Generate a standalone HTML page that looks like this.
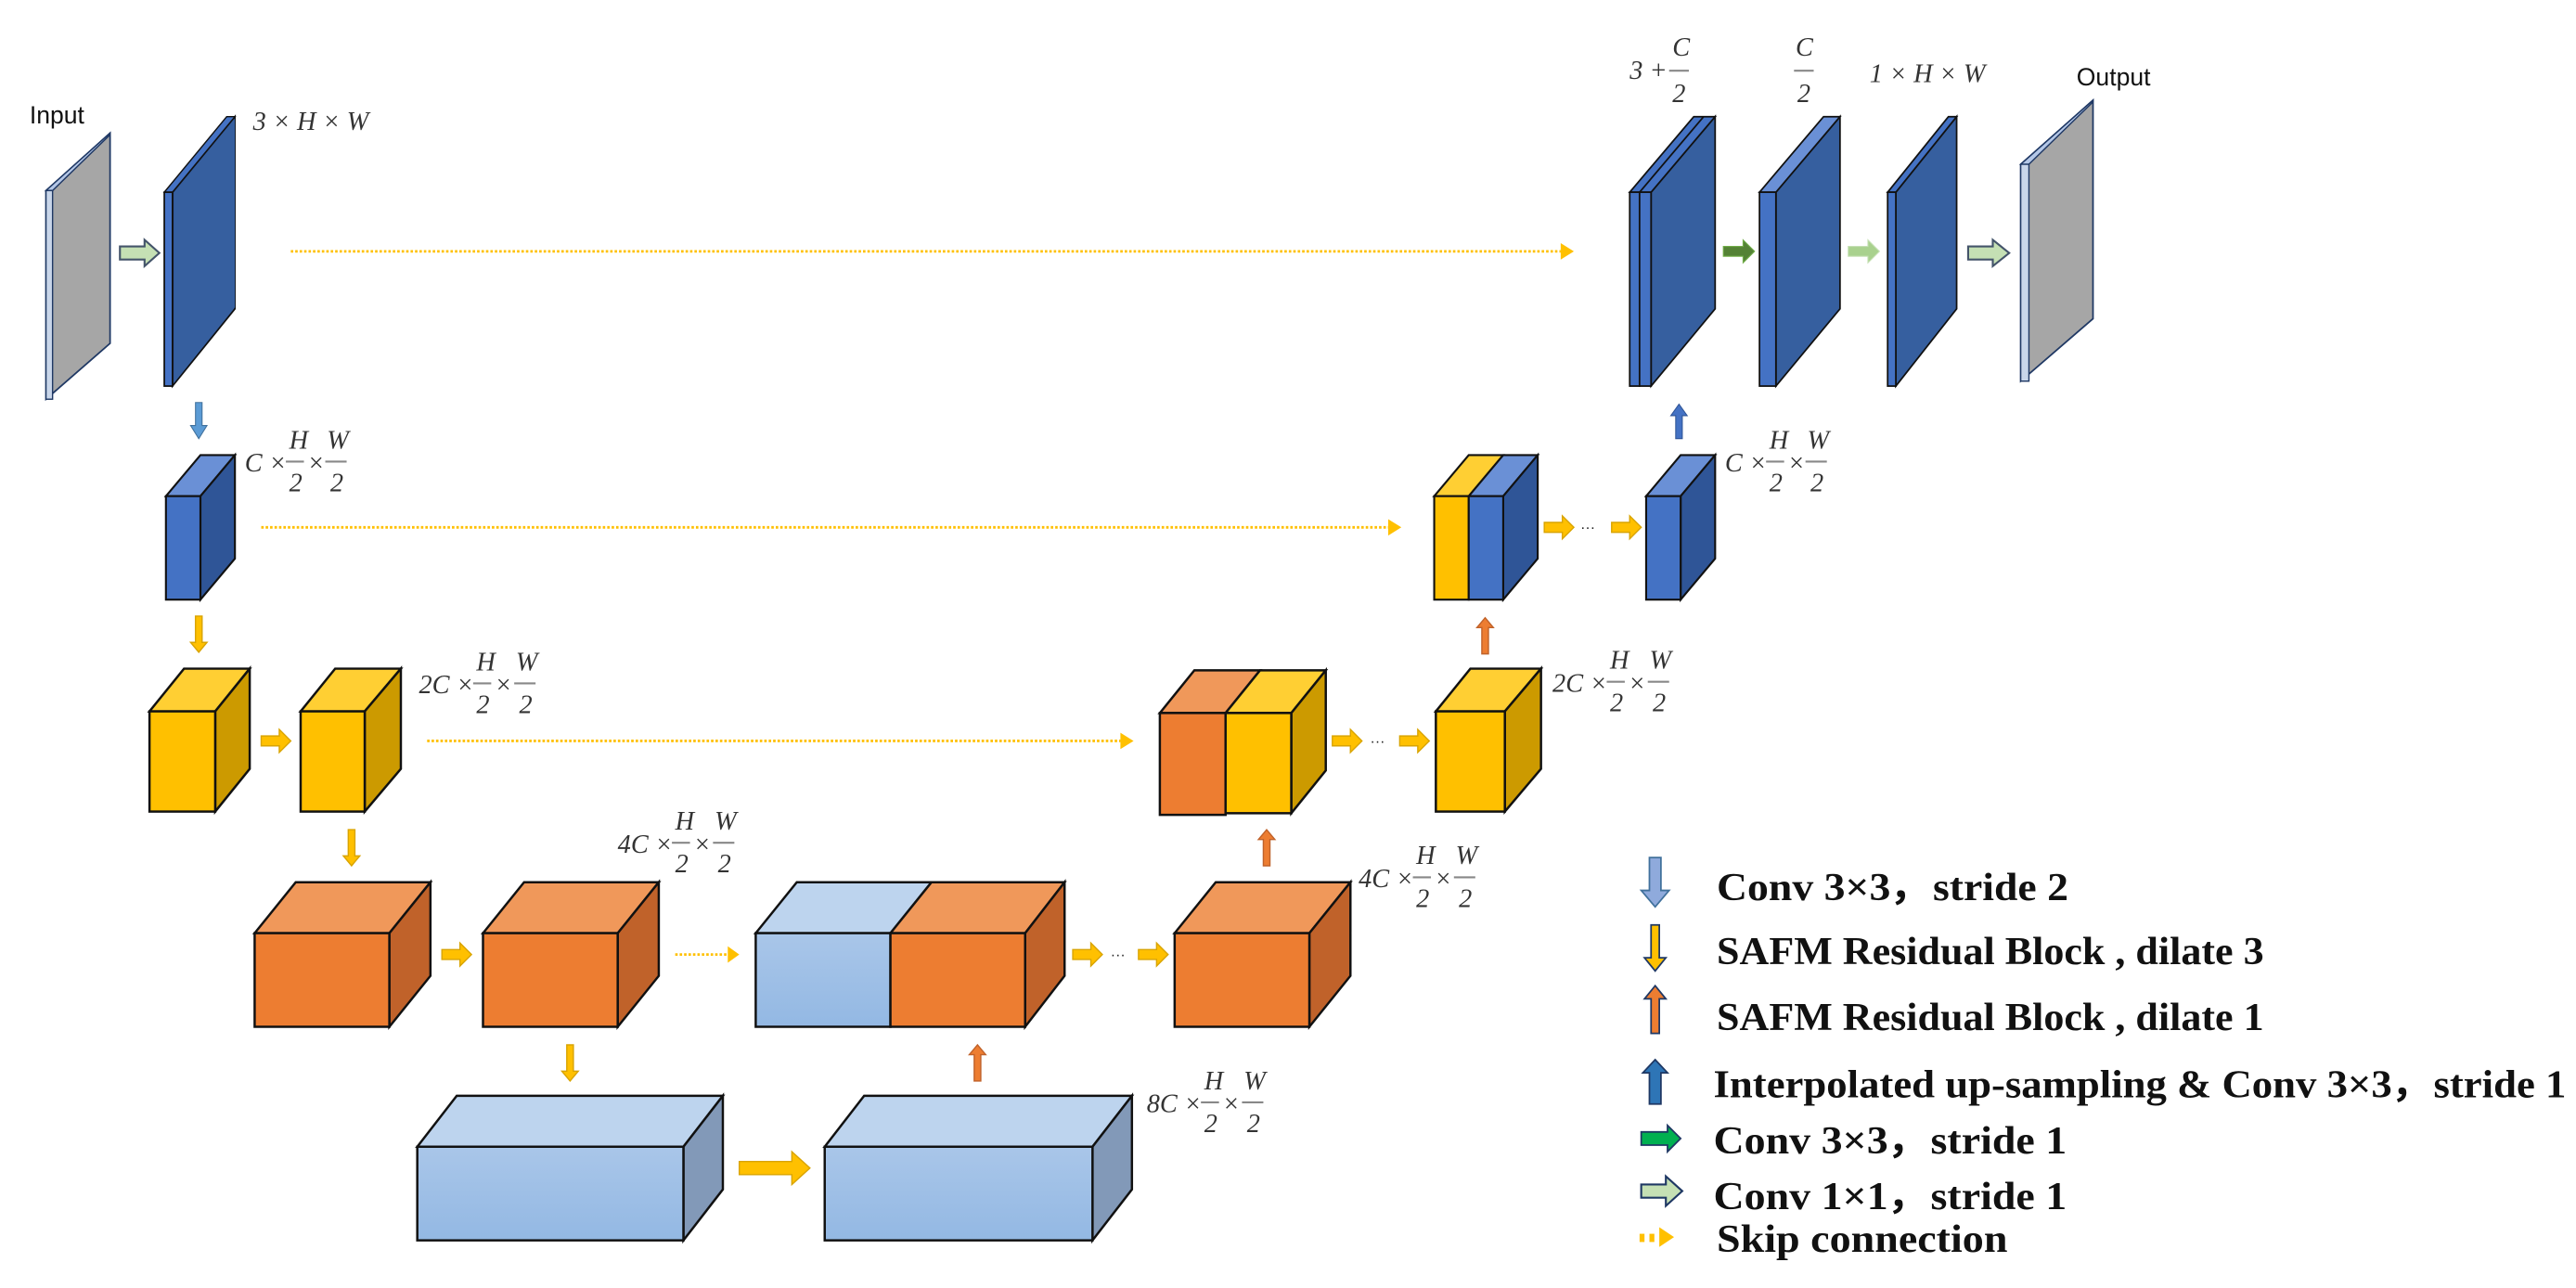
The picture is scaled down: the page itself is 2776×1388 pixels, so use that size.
<!DOCTYPE html>
<html><head><meta charset="utf-8"><style>
html,body{margin:0;padding:0;background:#fff;}
svg{display:block;}
.lab{font-family:"Liberation Serif",serif;font-style:italic;font-size:16px;fill:#333;}
.lg{font-family:"Liberation Serif",serif;font-weight:bold;font-size:24px;fill:#111;}
.io{font-family:"Liberation Sans",sans-serif;font-size:15px;fill:#111;}
</style></head><body>
<svg width="2776" height="1388" viewBox="0 0 1568 784" preserveAspectRatio="none" xmlns="http://www.w3.org/2000/svg">
<defs>
<linearGradient id="lb" x1="0" y1="0" x2="0" y2="1"><stop offset="0" stop-color="#A9C6E9"/><stop offset="1" stop-color="#93B8E3"/></linearGradient>
<g id="ya"><path d="M0,-3 H11 V-7 L18,0 L11,7 V3 H0 Z" fill="#FFC000" stroke="#D9A400" stroke-width="0.8"/></g>
<g id="ydn"><path d="M-2,0 H2 V16 H5 L0,22 L-5,16 H-2 Z" fill="#FFC000" stroke="#D9A400" stroke-width="0.8"/></g>
<g id="oup"><path d="M-2,22 H2 V6 H5 L0,0 L-5,6 H-2 Z" fill="#ED7D31" stroke="#C0622A" stroke-width="0.8"/></g>
</defs>

<polygon points="28,116 67,81 67,209 28,243" fill="#A6A6A6" stroke="#1F3864" stroke-width="1"/>
<polygon points="28,116 32,116 67,82 67,81" fill="#B4C7E7" stroke="#1F3864" stroke-width="0.8"/>
<rect x="28" y="116" width="4" height="127" fill="#C9D6EA" stroke="#1F3864" stroke-width="0.8"/>
<text class="io" x="18" y="75">Input</text>
<path d="M73,150 H88 V146 L97,154 L88,162 V158 H73 Z" fill="#C5E0B4" stroke="#44546A" stroke-width="1.2"/>

<polygon points="105,117 143,71 143,188 105,235" fill="#2F5597" stroke="#111" stroke-width="1"/>
<polygon points="100,117 138,71 143,71 105,117" fill="#4472C4" stroke="#111" stroke-width="0.8"/>
<rect x="100" y="117" width="5" height="118" fill="#4472C4" stroke="#111" stroke-width="1"/>
<polygon points="106,117 143,72 143,187 106,233" fill="#365F9F"/>
<text class="lab" x="154" y="79">3 × H × W</text>

<g stroke="#FFC000" stroke-width="1.6" stroke-dasharray="1.5,1.2" fill="none">
<line x1="177" y1="153" x2="950" y2="153"/>
<line x1="159" y1="321" x2="845" y2="321"/>
<line x1="260" y1="451" x2="682" y2="451"/>
<line x1="411" y1="581" x2="443" y2="581"/>
</g>
<g fill="#FFC000">
<polygon points="950,148 958,153 950,158"/>
<polygon points="845,316 853,321 845,326"/>
<polygon points="682,446 690,451 682,456"/>
<polygon points="443,576 450,581 443,586"/>
</g>

<path d="M119,245 H123 V259 H126 L121,267 L116,259 H119 Z" fill="#5B9BD5" stroke="#41719C" stroke-width="0.6"/>

<polygon points="101,302 122,277 143,277 122,302" fill="#6A90D6" stroke="#111" stroke-width="1.2"/>
<polygon points="122,302 143,277 143,340 122,365" fill="#2F5597" stroke="#111" stroke-width="1.2"/>
<rect x="101" y="302" width="21" height="63" fill="#4472C4" stroke="#111" stroke-width="1.2"/>
<g class="lab" transform="translate(149,260)">
<text x="0" y="27">C ×</text><text x="27" y="13">H</text><line x1="25" y1="21" x2="36" y2="21" stroke="#888" stroke-width="1.2"/><text x="27" y="39">2</text>
<text x="38" y="27">×</text><text x="50" y="13">W</text><line x1="49" y1="21" x2="62" y2="21" stroke="#888" stroke-width="1.2"/><text x="52" y="39">2</text>
</g>

<use href="#ydn" x="121" y="375"/>

<g stroke="#111" stroke-width="1.4">
<polygon points="91,433 112,407 152,407 131,433" fill="#FFCF33"/>
<polygon points="131,433 152,407 152,468 131,494" fill="#CC9A00"/>
<rect x="91" y="433" width="40" height="61" fill="#FFC000"/>
<polygon points="183,433 204,407 244,407 222,433" fill="#FFCF33"/>
<polygon points="222,433 244,407 244,468 222,494" fill="#CC9A00"/>
<rect x="183" y="433" width="39" height="61" fill="#FFC000"/>
</g>
<use href="#ya" x="159" y="451"/>
<g class="lab" transform="translate(255,395)">
<text x="0" y="27">2C ×</text><text x="35" y="13">H</text><line x1="33" y1="21" x2="44" y2="21" stroke="#888" stroke-width="1.2"/><text x="35" y="39">2</text>
<text x="46" y="27">×</text><text x="59" y="13">W</text><line x1="58" y1="21" x2="71" y2="21" stroke="#888" stroke-width="1.2"/><text x="61" y="39">2</text>
</g>
<use href="#ydn" x="214" y="505"/>

<g stroke="#111" stroke-width="1.4">
<polygon points="155,568 180,537 262,537 237,568" fill="#F0985A"/>
<polygon points="237,568 262,537 262,594 237,625" fill="#C0622A"/>
<rect x="155" y="568" width="82" height="57" fill="#ED7D31"/>
<polygon points="294,568 319,537 401,537 376,568" fill="#F0985A"/>
<polygon points="376,568 401,537 401,594 376,625" fill="#C0622A"/>
<rect x="294" y="568" width="82" height="57" fill="#ED7D31"/>
<polygon points="460,568 485,537 567,537 542,568" fill="#BDD4EE"/>
<polygon points="542,568 567,537 648,537 624,568" fill="#F0985A"/>
<polygon points="624,568 648,537 648,594 624,625" fill="#C0622A"/>
<rect x="460" y="568" width="82" height="57" fill="url(#lb)"/>
<rect x="542" y="568" width="82" height="57" fill="#ED7D31"/>
<polygon points="715,568 740,537 822,537 797,568" fill="#F0985A"/>
<polygon points="797,568 822,537 822,594 797,625" fill="#C0622A"/>
<rect x="715" y="568" width="82" height="57" fill="#ED7D31"/>
</g>
<use href="#ya" x="269" y="581"/>
<use href="#ya" x="653" y="581"/>
<text x="676" y="584" font-family="Liberation Sans" font-size="9" fill="#222">···</text>
<use href="#ya" x="693" y="581"/>
<g class="lab" transform="translate(376,492)">
<text x="0" y="27">4C ×</text><text x="35" y="13">H</text><line x1="33" y1="21" x2="44" y2="21" stroke="#888" stroke-width="1.2"/><text x="35" y="39">2</text>
<text x="46" y="27">×</text><text x="59" y="13">W</text><line x1="58" y1="21" x2="71" y2="21" stroke="#888" stroke-width="1.2"/><text x="61" y="39">2</text>
</g>
<g class="lab" transform="translate(827,513)">
<text x="0" y="27">4C ×</text><text x="35" y="13">H</text><line x1="33" y1="21" x2="44" y2="21" stroke="#888" stroke-width="1.2"/><text x="35" y="39">2</text>
<text x="46" y="27">×</text><text x="59" y="13">W</text><line x1="58" y1="21" x2="71" y2="21" stroke="#888" stroke-width="1.2"/><text x="61" y="39">2</text>
</g>

<use href="#ydn" x="347" y="636"/>
<use href="#oup" x="595" y="636"/>

<g stroke="#111" stroke-width="1.4">
<polygon points="254,698 278,667 440,667 416,698" fill="#BDD4EE"/>
<polygon points="416,698 440,667 440,724 416,755" fill="#8299B8"/>
<rect x="254" y="698" width="162" height="57" fill="url(#lb)"/>
<polygon points="502,698 526,667 689,667 665,698" fill="#BDD4EE"/>
<polygon points="665,698 689,667 689,724 665,755" fill="#8299B8"/>
<rect x="502" y="698" width="163" height="57" fill="url(#lb)"/>
</g>
<path d="M450,707 H482 V701 L493,711 L482,721 V715 H450 Z" fill="#FFC000" stroke="#D9A400" stroke-width="0.8"/>
<g class="lab" transform="translate(698,650)">
<text x="0" y="27">8C ×</text><text x="35" y="13">H</text><line x1="33" y1="21" x2="44" y2="21" stroke="#888" stroke-width="1.2"/><text x="35" y="39">2</text>
<text x="46" y="27">×</text><text x="59" y="13">W</text><line x1="58" y1="21" x2="71" y2="21" stroke="#888" stroke-width="1.2"/><text x="61" y="39">2</text>
</g>

<use href="#oup" x="771" y="505"/>

<g stroke="#111" stroke-width="1.4">
<polygon points="706,434 727,408 767,408 746,434" fill="#F0985A"/>
<polygon points="746,434 767,408 807,408 786,434" fill="#FFCF33"/>
<polygon points="786,434 807,408 807,469 786,495" fill="#CC9A00"/>
<rect x="706" y="434" width="40" height="62" fill="#ED7D31"/>
<rect x="746" y="434" width="40" height="61" fill="#FFC000"/>
<polygon points="874,433 895,407 938,407 916,433" fill="#FFCF33"/>
<polygon points="916,433 938,407 938,468 916,494" fill="#CC9A00"/>
<rect x="874" y="433" width="42" height="61" fill="#FFC000"/>
</g>
<use href="#ya" x="811" y="451"/>
<text x="834" y="454" font-family="Liberation Sans" font-size="9" fill="#222">···</text>
<use href="#ya" x="852" y="451"/>
<g class="lab" transform="translate(945,394)">
<text x="0" y="27">2C ×</text><text x="35" y="13">H</text><line x1="33" y1="21" x2="44" y2="21" stroke="#888" stroke-width="1.2"/><text x="35" y="39">2</text>
<text x="46" y="27">×</text><text x="59" y="13">W</text><line x1="58" y1="21" x2="71" y2="21" stroke="#888" stroke-width="1.2"/><text x="61" y="39">2</text>
</g>
<use href="#oup" x="904" y="376"/>

<g stroke="#111" stroke-width="1.2">
<polygon points="873,302 894,277 915,277 894,302" fill="#FFCF33"/>
<polygon points="894,302 915,277 936,277 915,302" fill="#6A90D6"/>
<polygon points="915,302 936,277 936,340 915,365" fill="#2F5597"/>
<rect x="873" y="302" width="21" height="63" fill="#FFC000"/>
<rect x="894" y="302" width="21" height="63" fill="#4472C4"/>
<polygon points="1002,302 1023,277 1044,277 1023,302" fill="#6A90D6"/>
<polygon points="1023,302 1044,277 1044,340 1023,365" fill="#2F5597"/>
<rect x="1002" y="302" width="21" height="63" fill="#4472C4"/>
</g>
<use href="#ya" x="940" y="321"/>
<text x="962" y="324" font-family="Liberation Sans" font-size="9" fill="#222">···</text>
<use href="#ya" x="981" y="321"/>
<g class="lab" transform="translate(1050,260)">
<text x="0" y="27">C ×</text><text x="27" y="13">H</text><line x1="25" y1="21" x2="36" y2="21" stroke="#888" stroke-width="1.2"/><text x="27" y="39">2</text>
<text x="38" y="27">×</text><text x="50" y="13">W</text><line x1="49" y1="21" x2="62" y2="21" stroke="#888" stroke-width="1.2"/><text x="52" y="39">2</text>
</g>
<path d="M1020,267 H1024 V253 H1027 L1022,246 L1017,253 H1020 Z" fill="#4472C4" stroke="#2F5597" stroke-width="0.6"/>

<g stroke="#111" stroke-width="1">
<polygon points="1005,117 1044,71 1044,188 1005,235" fill="#365F9F"/>
<polygon points="992,117 1031,71 1044,71 1005,117" fill="#4472C4"/>
<line x1="998" y1="117" x2="1037" y2="71"/>
<rect x="992" y="117" width="6" height="118" fill="#4472C4"/>
<rect x="998" y="117" width="7" height="118" fill="#4472C4"/>
<polygon points="1081,117 1120,71 1120,188 1081,235" fill="#365F9F"/>
<polygon points="1071,117 1110,71 1120,71 1081,117" fill="#6A90D6"/>
<rect x="1071" y="117" width="10" height="118" fill="#4472C4"/>
<polygon points="1154,117 1191,71 1191,188 1154,235" fill="#365F9F"/>
<polygon points="1149,117 1186,71 1191,71 1154,117" fill="#4472C4"/>
<rect x="1149" y="117" width="5" height="118" fill="#4472C4"/>
</g>
<polygon points="1230,100 1274,61 1274,194 1230,232" fill="#A6A6A6" stroke="#1F3864" stroke-width="1"/>
<polygon points="1230,100 1235,100 1274,62 1274,61" fill="#B4C7E7" stroke="#1F3864" stroke-width="0.8"/>
<rect x="1230" y="100" width="5" height="132" fill="#C9D6EA" stroke="#1F3864" stroke-width="0.8"/>
<text class="io" x="1264" y="52">Output</text>

<path d="M1049,150 H1061 V146 L1068,153 L1061,160 V156 H1049 Z" fill="#548235" stroke="#70AD47" stroke-width="0.6"/>
<path d="M1125,150 H1137 V146 L1144,153 L1137,160 V156 H1125 Z" fill="#A9D18E" stroke="#C5E0B4" stroke-width="0.6"/>
<path d="M1198,150 H1213 V146 L1223,154 L1213,162 V158 H1198 Z" fill="#C5E0B4" stroke="#44546A" stroke-width="1.2"/>

<g class="lab">
<text x="992" y="48">3 +</text><text x="1018" y="34">C</text><line x1="1016" y1="43" x2="1028" y2="43" stroke="#888" stroke-width="1.2"/><text x="1018" y="62">2</text>
<text x="1093" y="34">C</text><line x1="1092" y1="43" x2="1104" y2="43" stroke="#888" stroke-width="1.2"/><text x="1094" y="62">2</text>
<text x="1138" y="50">1 × H × W</text>
</g>

<path d="M1004,522 H1011 V542 H1016 L1007.5,552 L999,542 H1004 Z" fill="#8FAADC" stroke="#41719C" stroke-width="1"/>
<path d="M1005,563 H1010 V583 H1014 L1007.5,591 L1001,583 H1005 Z" fill="#FFC000" stroke="#1F3864" stroke-width="1"/>
<path d="M1005,629 H1010 V608 H1014 L1007.5,600 L1001,608 H1005 Z" fill="#ED7D31" stroke="#1F3864" stroke-width="1"/>
<path d="M1004,672 H1011 V653 H1015 L1007.5,645 L1000,653 H1004 Z" fill="#2E75B6" stroke="#1F3864" stroke-width="1"/>
<path d="M999,689 H1015 V685 L1023,693 L1015,701 V697 H999 Z" fill="#00B050" stroke="#1F3864" stroke-width="1"/>
<path d="M999,721 H1014 V716 L1024,725 L1014,734 V729 H999 Z" fill="#C5E0B4" stroke="#1F3864" stroke-width="1.2"/>
<g fill="#FFC000"><rect x="998" y="751" width="3" height="5"/><rect x="1004" y="751" width="3" height="5"/><polygon points="1010,747 1019,753 1010,759"/></g>

<text class="lg" x="1045" y="548" textLength="214" lengthAdjust="spacingAndGlyphs">Conv 3×3，stride 2</text>
<text class="lg" x="1045" y="587" textLength="333" lengthAdjust="spacingAndGlyphs">SAFM Residual Block , dilate 3</text>
<text class="lg" x="1045" y="627" textLength="333" lengthAdjust="spacingAndGlyphs">SAFM Residual Block , dilate 1</text>
<text class="lg" x="1043" y="668" textLength="519" lengthAdjust="spacingAndGlyphs">Interpolated up-sampling &amp; Conv 3×3，stride 1</text>
<text class="lg" x="1043" y="702" textLength="215" lengthAdjust="spacingAndGlyphs">Conv 3×3，stride 1</text>
<text class="lg" x="1043" y="736" textLength="215" lengthAdjust="spacingAndGlyphs">Conv 1×1，stride 1</text>
<text class="lg" x="1045" y="762" textLength="177" lengthAdjust="spacingAndGlyphs">Skip  connection</text>
</svg>
</body></html>
